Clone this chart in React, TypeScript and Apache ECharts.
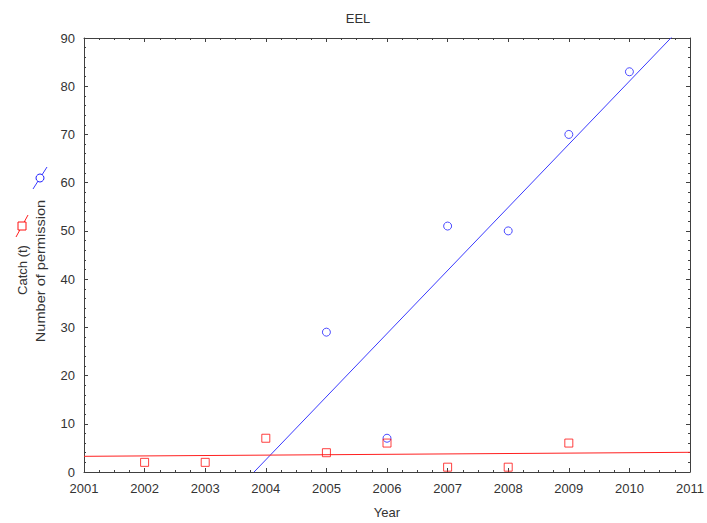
import React, { useEffect, useRef } from "react";
import * as echarts from "echarts";

const permYears = [2005, 2006, 2007, 2008, 2009, 2010];
const permValues = [29, 7, 51, 50, 70, 83];
const catchYears = [2002, 2003, 2004, 2005, 2006, 2007, 2008, 2009];
const catchValues = [2, 2, 7, 4, 6, 1, 1, 6];

const X_MIN = 2001;
const X_MAX = 2011;
const Y_MIN = 0;
const Y_MAX = 90;

function fit(xs: number[], ys: number[]) {
  const n = xs.length;
  const mx = xs.reduce((a, b) => a + b, 0) / n;
  const my = ys.reduce((a, b) => a + b, 0) / n;
  let sxy = 0;
  let sxx = 0;
  for (let i = 0; i < n; i++) {
    sxy += (xs[i] - mx) * (ys[i] - my);
    sxx += (xs[i] - mx) * (xs[i] - mx);
  }
  const slope = sxy / sxx;
  return { slope, intercept: my - slope * mx };
}

const FONT = "'Liberation Sans', Arial, sans-serif";
const TXT = "#333";
const AX = "#404040";
const FS = 13;

export default function App() {
  const ref = useRef<HTMLDivElement>(null);
  useEffect(() => {
    document.body.style.margin = "0";
    if (!ref.current) return;
    const chart = echarts.init(ref.current, null, { renderer: "svg" });
    const pf = fit(permYears, permValues);
    const cf = fit(catchYears, catchValues);
    const pX0 = (Y_MIN - pf.intercept) / pf.slope;
    const permLine = [
      [pX0, Y_MIN],
      [X_MAX, pf.slope * X_MAX + pf.intercept],
    ];
    const catchLine = [
      [X_MIN, cf.slope * X_MIN + cf.intercept],
      [X_MAX, cf.slope * X_MAX + cf.intercept],
    ];
    const tickCommon = {
      axisLine: { show: true, onZero: false, lineStyle: { color: AX, width: 1 } },
      axisTick: { show: true, inside: true, length: 4, lineStyle: { color: AX } },
      minorTick: { show: true, length: 2, lineStyle: { color: AX } },
      splitLine: { show: false },
    };
    const fmt = (v: number) => String(v);
    chart.setOption({
      animation: false,
      textStyle: { fontFamily: FONT },
      grid: { left: 84, right: 15, top: 38, bottom: 51, containLabel: false },
      xAxis: [
        {
          type: "value",
          min: X_MIN,
          max: X_MAX,
          interval: 1,
          ...tickCommon,
          minorTick: { ...tickCommon.minorTick, splitNumber: 4 },
          axisLabel: { color: TXT, fontSize: FS, margin: 10, fontFamily: FONT, formatter: fmt },
        },
        {
          type: "value",
          position: "top",
          min: X_MIN,
          max: X_MAX,
          interval: 1,
          ...tickCommon,
          minorTick: { ...tickCommon.minorTick, splitNumber: 4 },
          axisLabel: { show: false },
        },
      ],
      yAxis: [
        {
          type: "value",
          min: Y_MIN,
          max: Y_MAX,
          interval: 10,
          ...tickCommon,
          minorTick: { ...tickCommon.minorTick, splitNumber: 5 },
          axisLabel: { color: TXT, fontSize: FS, margin: 9, fontFamily: FONT, formatter: fmt },
        },
        {
          type: "value",
          position: "right",
          min: Y_MIN,
          max: Y_MAX,
          interval: 10,
          ...tickCommon,
          minorTick: { ...tickCommon.minorTick, splitNumber: 5 },
          axisLabel: { show: false },
        },
      ],
      series: [
        {
          type: "line",
          data: permLine,
          showSymbol: false,
          symbol: "none",
          clip: true,
          lineStyle: { color: "#3a3aff", width: 1 },
          z: 2,
        },
        {
          type: "line",
          data: catchLine,
          showSymbol: false,
          symbol: "none",
          clip: true,
          lineStyle: { color: "#ff2020", width: 1 },
          z: 2,
        },
        {
          type: "scatter",
          data: permYears.map((y, i) => [y, permValues[i]]),
          symbol: "circle",
          symbolSize: 8,
          itemStyle: { color: "rgba(0,0,0,0)", borderColor: "#2020ff", borderWidth: 1 },
          z: 3,
        },
        {
          type: "scatter",
          data: catchYears.map((y, i) => [y, catchValues[i]]),
          symbol: "rect",
          symbolSize: 8,
          itemStyle: { color: "rgba(0,0,0,0)", borderColor: "#ff1010", borderWidth: 1 },
          z: 4,
        },
      ],
      graphic: [
        {
          type: "text",
          x: 358,
          y: 18,
          style: { text: "EEL", fill: TXT, font: `${FS}px ${FONT}`, textAlign: "center", textVerticalAlign: "middle" },
        },
        {
          type: "text",
          x: 387,
          y: 512,
          style: { text: "Year", fill: TXT, font: `${FS}px ${FONT}`, textAlign: "center", textVerticalAlign: "middle" },
        },
        {
          type: "text",
          x: 22,
          y: 270,
          rotation: Math.PI / 2,
          style: { text: "Catch (t)", fill: TXT, font: `${FS}px ${FONT}`, textAlign: "center", textVerticalAlign: "middle" },
        },
        {
          type: "text",
          x: 41,
          y: 271,
          rotation: Math.PI / 2,
          scaleX: 1.12,
          style: { text: "Number of permission", fill: TXT, font: `${FS}px ${FONT}`, textAlign: "center", textVerticalAlign: "middle" },
        },
        {
          type: "line",
          shape: { x1: 16, y1: 237, x2: 28, y2: 215 },
          style: { stroke: "#ff2020", lineWidth: 1 },
        },
        {
          type: "rect",
          shape: { x: 18, y: 222, width: 8, height: 8 },
          style: { fill: "#fff", stroke: "#ff1010", lineWidth: 1 },
        },
        {
          type: "line",
          shape: { x1: 33, y1: 189, x2: 47, y2: 167 },
          style: { stroke: "#3a3aff", lineWidth: 1 },
        },
        {
          type: "circle",
          shape: { cx: 40, cy: 178, r: 4 },
          style: { fill: "#fff", stroke: "#2020ff", lineWidth: 1 },
        },
      ],
    });
    return () => chart.dispose();
  }, []);
  return <div ref={ref} style={{ width: 707, height: 523 }} />;
}
